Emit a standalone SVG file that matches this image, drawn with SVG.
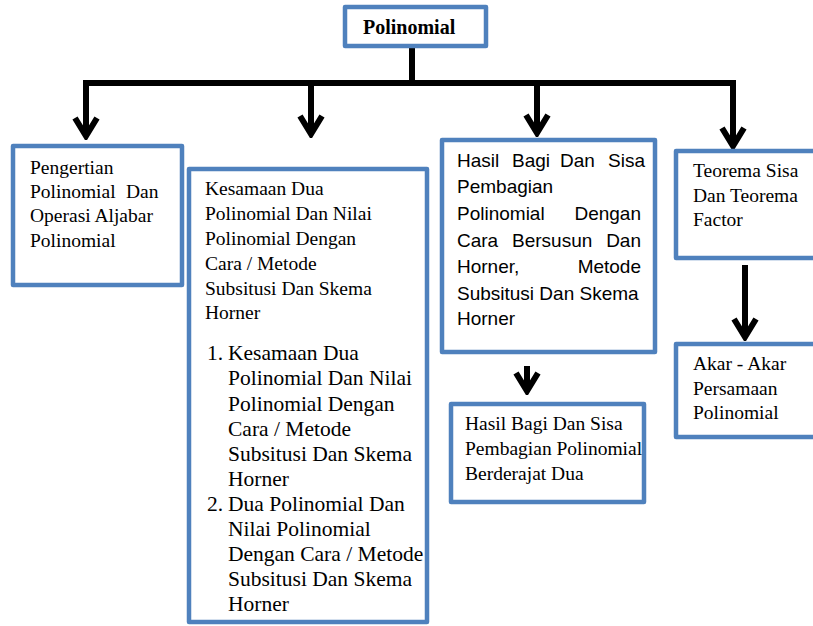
<svg xmlns="http://www.w3.org/2000/svg" width="813" height="626" viewBox="0 0 813 626">
<style>
.box{fill:#fff;stroke:#4F81BD;stroke-width:4.5;stroke-linejoin:round}
.t{font-family:Liberation Serif,serif;font-size:19.5px;fill:#000}
.l{font-family:Liberation Serif,serif;font-size:21.5px;fill:#000}
.s{font-family:Liberation Sans,sans-serif;font-size:19px;fill:#000}
.c{fill:none;stroke:#000;stroke-width:6}
</style>
<defs>
<marker id="ah" markerUnits="userSpaceOnUse" viewBox="-24 -14 28 28" refX="0" refY="0" markerWidth="28" markerHeight="28" orient="auto">
<path d="M-18,-11 L0,0 L-18,11" fill="none" stroke="#000" stroke-width="6" stroke-linejoin="miter"/>
</marker>
</defs>
<g id="connectors">
<path class="c" d="M412,46 V83"/>
<path class="c" d="M83,83 H736"/>
<path class="c" d="M86,83 V136" marker-end="url(#ah)"/>
<path class="c" d="M311,83 V134" marker-end="url(#ah)"/>
<path class="c" d="M537,83 V133" marker-end="url(#ah)"/>
<path class="c" d="M733,83 V146" marker-end="url(#ah)"/>
<path class="c" d="M527,366 V391" marker-end="url(#ah)"/>
<path class="c" d="M745,265 V337" marker-end="url(#ah)"/>
</g>
<g id="polinomial">
<rect class="box" x="345" y="7" width="141" height="39"/>
<text x="363" y="34" font-family="Liberation Serif, serif" font-weight="bold" font-size="20" fill="#000">Polinomial</text>
</g>
<g id="pengertian" font-family="Liberation Serif, serif" font-size="19.5">
<rect class="box" x="13" y="146" width="169" height="139"/>
<text class="t" x="30" y="174">Pengertian</text>
<text class="t" x="30" y="198">Polinomial <tspan x="126">Dan</tspan></text>
<text class="t" x="30" y="222">Operasi Aljabar</text>
<text class="t" x="30" y="247">Polinomial</text>
</g>
<g id="kesamaan" font-family="Liberation Serif, serif">
<rect class="box" x="189" y="169" width="238" height="453"/>
<text class="t" x="205" y="195">Kesamaan Dua</text>
<text class="t" x="205" y="220">Polinomial Dan Nilai</text>
<text class="t" x="205" y="245">Polinomial Dengan</text>
<text class="t" x="205" y="270">Cara / Metode</text>
<text class="t" x="205" y="295">Subsitusi Dan Skema</text>
<text class="t" x="205" y="319">Horner</text>
<text class="l" x="207" y="360">1.</text>
<text class="l" x="228" y="360">Kesamaan Dua</text>
<text class="l" x="228" y="385">Polinomial Dan Nilai</text>
<text class="l" x="228" y="411">Polinomial Dengan</text>
<text class="l" x="228" y="436">Cara / Metode</text>
<text class="l" x="228" y="461">Subsitusi Dan Skema</text>
<text class="l" x="228" y="486">Horner</text>
<text class="l" x="207" y="511">2.</text>
<text class="l" x="228" y="511">Dua Polinomial Dan</text>
<text class="l" x="228" y="536">Nilai Polinomial</text>
<text class="l" x="228" y="561">Dengan Cara / Metode</text>
<text class="l" x="228" y="586">Subsitusi Dan Skema</text>
<text class="l" x="228" y="611">Horner</text>
</g>
<g id="hasilbagi">
<rect class="box" x="442" y="140" width="213" height="212"/>
<text class="s" y="167"><tspan x="457">Hasil</tspan><tspan x="512">Bagi</tspan><tspan x="560">Dan</tspan><tspan x="608">Sisa</tspan></text>
<text class="s" x="457" y="193">Pembagian</text>
<text class="s" y="220"><tspan x="457">Polinomial</tspan><tspan x="641" text-anchor="end">Dengan</tspan></text>
<text class="s" y="247"><tspan x="457">Cara</tspan><tspan x="512">Bersusun</tspan><tspan x="641" text-anchor="end">Dan</tspan></text>
<text class="s" y="273"><tspan x="457">Horner,</tspan><tspan x="641" text-anchor="end">Metode</tspan></text>
<text class="s" x="457" y="300">Subsitusi Dan Skema</text>
<text class="s" x="457" y="325">Horner</text>
</g>
<g id="berderajat" font-family="Liberation Serif, serif">
<rect class="box" x="451" y="404" width="193" height="98"/>
<text class="t" x="465" y="430">Hasil Bagi Dan Sisa</text>
<text class="t" x="465" y="455">Pembagian Polinomial</text>
<text class="t" x="465" y="480">Berderajat Dua</text>
</g>
<g id="teorema" font-family="Liberation Serif, serif">
<rect class="box" x="676" y="151" width="145" height="107"/>
<text class="t" x="693" y="177">Teorema Sisa</text>
<text class="t" x="693" y="202">Dan Teorema</text>
<text class="t" x="693" y="226">Factor</text>
</g>
<g id="akar" font-family="Liberation Serif, serif">
<rect class="box" x="676" y="344" width="145" height="93"/>
<text class="t" x="693" y="370">Akar - Akar</text>
<text class="t" x="693" y="395">Persamaan</text>
<text class="t" x="693" y="419">Polinomial</text>
</g>
</svg>
